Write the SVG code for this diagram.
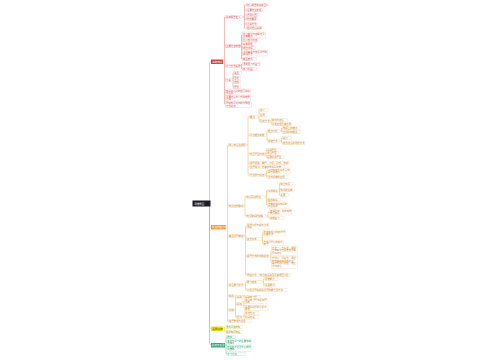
<svg xmlns="http://www.w3.org/2000/svg" width="500" height="360" viewBox="0 0 500 360">
<style>
text{font-family:"Noto Sans CJK SC","Noto Sans",sans-serif;font-size:2.4px}
.r rect{fill:#fff;stroke:#f2b4b4;stroke-width:.3}.r text{fill:#d85a5a}
.o rect{fill:#fff;stroke:#f5cf98;stroke-width:.3}.o text{fill:#cf8a35}
.g rect{fill:#fff;stroke:#9fdcc0;stroke-width:.3}.g text{fill:#2a9f70}
.y rect{fill:#fff;stroke:#eee07a;stroke-width:.3}.y text{fill:#9a8a10}
.m text{fill:#fff;font-size:2.6px}
#connectors path{fill:none;stroke-width:.5}
.cr{stroke:#e57b7b}.co{stroke:#f1b25a}.cg{stroke:#4cbf8c}.cy{stroke:#e6d43a}
</style>
<rect width="500" height="360" fill="#fff"/>
<g id="connectors">
<path class="cr" d="M209.5,201V63.5Q209.5,61.8 211.2,61.8M223,61.8H224.5M224.5,17V104M224.5,17H226M224.5,46H226M224.5,66H226M224.5,80H226M224.5,92H226M224.5,98H226M224.5,104H226"/>
<path class="cr" d="M242,17H244.5M244.5,5V28M244.5,5H247M244.5,10H247M244.5,15H247M244.5,19H247M244.5,24H247M244.5,28H247"/>
<path class="cr" d="M240,46H241.5M241.5,35V59M241.5,35H243M241.5,40H243M241.5,44H243M241.5,48H243M241.5,53H243M241.5,59H243"/>
<path class="cr" d="M240,66H241.5M241.5,64V69M241.5,64H243M241.5,69H243"/>
<path class="cr" d="M232,80H233M233,73V87M233,73H234M233,78H234M233,82H234M233,87H234"/>
<path class="co" d="M209.5,206V225.5Q209.5,227.2 211.2,227.2M226,227.2H227.5M227.5,145V321M227.5,145H229M227.5,206H229M227.5,236H229M227.5,285H229M227.5,296H229M227.5,310H229M227.5,321H229"/>
<path class="co" d="M246,145H248M248,117V175M248,117H250M248,135H250M248,154H250M248,163H250M248,167H250M248,175H250"/>
<path class="co" d="M258,117H259M259,110V121M259,110H260M259,115H260M259,121H260M270,121H271M271,120V124M271,120H272M271,124H272"/>
<path class="co" d="M266,135H267M267,131V141M267,131H268M267,141H268M280,131H281.5M281.5,128V132M281.5,128H283M281.5,132H283M279,141H281.5M281.5,138V143M281.5,138H283M281.5,143H283"/>
<path class="co" d="M265,154H266M266,150V157M266,150H267M266,153.5H267M266,157H267M265,175H266.5M266.5,171V177M266.5,171H268M266.5,177H268"/>
<path class="co" d="M244,206H245M245,197V216M245,197H246.5M245,216H246.5M264.5,197H266.5M266.5,191V205M266.5,191H268M266.5,200H268M266.5,205H268M279,191H279.5M279.5,184V195M279.5,184H280.5M279.5,190H280.5M279.5,195H280.5M265.5,216H268M268,212V218M268,212H270M268,218H270"/>
<path class="co" d="M244,236H245.5M245.5,226V275M245.5,226H247M245.5,239H247M245.5,256H247M245.5,275H247M262,239H262.5M262.5,233V243M262.5,233H263.5M262.5,243H263.5M270,256H271M271,250.5V262.5M271,250.5H272M271,262.5H272M259,275H260"/>
<path class="co" d="M244,285H245.5M245.5,282V290M245.5,282H247M245.5,290H247M262,282H263.5M263.5,279V285M263.5,279H265M263.5,285H265M235,296H246"/>
<path class="co" d="M234,310H235.5M235.5,297V317M235.5,297H237M235.5,304H237M235.5,317H237M243,297H245M243,304H244M244,301V308M244,301H245M244,308H245M243,317H244M244,313V317M244,313H245M244,317H245"/>
<path class="cy" d="M209.5,206V326.8Q209.5,328.7 211.2,328.7M223,328.7H224.5M224.5,327V332M224.5,327H226M224.5,332H226"/>
<path class="cg" d="M209.5,206V343.3Q209.5,345.2 211.2,345.2M225,345.2H226M226,337V354M226,337H227M226,342H227M226,348H227M226,354H227"/>
</g>
<g id="root"><rect x="192.5" y="200.5" width="18" height="6" fill="#1d1d2b"/><text x="194.5" y="204.5" fill="#fff" font-size="3.2px">思维导图</text></g>
<g id="b1" class="m"><rect x="211" y="59.5" width="12" height="4.5" fill="#d0403a"/><text x="212.2" y="62.7">基础知识</text></g>
<g id="b2" class="m"><rect x="211" y="225" width="15" height="4.5" fill="#f0a030"/><text x="211.8" y="228.1">重点内容分析</text></g>
<g id="b3" class="m"><rect x="211" y="326.5" width="12" height="4.5" fill="#f3e01c"/><text x="212.2" y="329.6" style="fill:#6b5e00">拓展延伸</text></g>
<g id="b4" class="m"><rect x="211" y="343" width="14" height="4.5" fill="#2aa87a"/><text x="211.6" y="346.1">总结与反思</text></g>
<g id="r1" class="r"><rect x="225.5" y="15.3" width="16.5" height="3.4"/><text x="226" y="17.9">基本概念定义</text></g>
<g id="r1a" class="r"><rect x="246.5" y="3.3" width="20" height="3.4"/><text x="247" y="5.9">核心概念的基本含义</text></g>
<g id="r1b" class="r"><rect x="246.5" y="8.3" width="16" height="3.4"/><text x="247" y="10.9">主要特征表现</text></g>
<g id="r1c" class="r"><rect x="246.5" y="13.3" width="11" height="3.4"/><text x="247" y="15.9">适用范围</text></g>
<g id="r1d" class="r"><rect x="246.5" y="17.3" width="11" height="3.4"/><text x="247" y="19.9">构成要素</text></g>
<g id="r1e" class="r"><rect x="246.5" y="22.3" width="11" height="3.4"/><text x="247" y="24.9">分类方法</text></g>
<g id="r1f" class="r"><rect x="246.5" y="26.3" width="15" height="3.4"/><text x="247" y="28.9">相关理论基础</text></g>
<g id="r2" class="r"><rect x="225.5" y="44.3" width="15" height="3.4"/><text x="226" y="46.9">主要内容梳理</text></g>
<g id="r2a" class="r"><rect x="242.5" y="32" width="23" height="6"/><text x="243" y="34.5">第一部分内容概述及</text><text x="243" y="37.2">主要要点</text></g>
<g id="r2b" class="r"><rect x="242.5" y="38.3" width="16" height="3.4"/><text x="243" y="40.9">第二部分内容</text></g>
<g id="r2c" class="r"><rect x="242.5" y="42.3" width="13" height="3.4"/><text x="243" y="44.9">基本原理</text></g>
<g id="r2d" class="r"><rect x="242.5" y="46.3" width="13" height="3.4"/><text x="243" y="48.9">操作流程</text></g>
<g id="r2e" class="r"><rect x="242.5" y="50" width="25" height="6"/><text x="243" y="52.5">注意事项与常见问题的</text><text x="243" y="55.2">解决办法</text></g>
<g id="r2f" class="r"><rect x="242.5" y="57.3" width="14" height="3.4"/><text x="243" y="59.9">典型案例</text></g>
<g id="r3" class="r"><rect x="225.5" y="64.3" width="15" height="3.4"/><text x="226" y="66.9">学习方法指导</text></g>
<g id="r3a" class="r"><rect x="242.5" y="62.3" width="18" height="3.4"/><text x="243" y="64.9">课前预习与复习</text></g>
<g id="r3b" class="r"><rect x="242.5" y="67.3" width="14" height="3.4"/><text x="243" y="69.9">练习巩固</text></g>
<g id="r4" class="r"><rect x="225.5" y="78.3" width="7" height="3.4"/><text x="226" y="80.9">分类</text></g>
<g id="r4a" class="r"><rect x="233.7" y="71.3" width="7.5" height="3.4"/><text x="234.2" y="73.9">类型</text></g>
<g id="r4b" class="r"><rect x="233.7" y="76.3" width="6.5" height="3.4"/><text x="234.2" y="78.9">形式</text></g>
<g id="r4c" class="r"><rect x="233.7" y="80.3" width="6.5" height="3.4"/><text x="234.2" y="82.9">结构</text></g>
<g id="r4d" class="r"><rect x="233.7" y="85.3" width="6.5" height="3.4"/><text x="234.2" y="87.9">层次</text></g>
<g id="r5" class="r"><rect x="225.5" y="89" width="25" height="6"/><text x="226" y="91.5">知识点之间的相互联系</text><text x="226" y="94.2">与区别</text></g>
<g id="r6" class="r"><rect x="225.5" y="95.2" width="25" height="6"/><text x="226" y="97.7">重要结论与公式的推导</text><text x="226" y="100.4">过程</text></g>
<g id="r7" class="r"><rect x="225.5" y="101.3" width="26" height="6"/><text x="226" y="103.8">易错知识点归纳与整理</text><text x="226" y="106.5">方法总结</text></g>
<g id="o1" class="o"><rect x="228.5" y="143.3" width="17.5" height="3.4"/><text x="229" y="145.9">核心知识点解析</text></g>
<g id="o1a" class="o"><rect x="249.5" y="115.3" width="8.5" height="3.4"/><text x="250" y="117.9">要点</text></g>
<g id="o1a1" class="o"><rect x="259.5" y="108.3" width="8.5" height="3.4"/><text x="260" y="110.9">定义</text></g>
<g id="o1a2" class="o"><rect x="259.5" y="113.3" width="7.5" height="3.4"/><text x="260" y="115.9">性质</text></g>
<g id="o1a3" class="o"><rect x="259.5" y="119.3" width="10.5" height="3.4"/><text x="260" y="121.9">判定方法</text></g>
<g id="o1a3a" class="o"><rect x="271.5" y="118.3" width="16" height="3.4"/><text x="272" y="120.9">条件与结论</text></g>
<g id="o1a3b" class="o"><rect x="271.5" y="122.3" width="20" height="3.4"/><text x="272" y="124.9">判定定理及其应用</text></g>
<g id="o1b" class="o"><rect x="249.5" y="133.3" width="16.5" height="3.4"/><text x="250" y="135.9">重点难点突破</text></g>
<g id="o1b1" class="o"><rect x="267.5" y="129.3" width="12.5" height="3.4"/><text x="268" y="131.9">难点分析</text></g>
<g id="o1b1a" class="o"><rect x="282.5" y="126.3" width="17.5" height="3.4"/><text x="283" y="128.9">理解上的难点</text></g>
<g id="o1b1b" class="o"><rect x="282.5" y="130.3" width="18.5" height="3.4"/><text x="283" y="132.9">应用中的难点</text></g>
<g id="o1b2" class="o"><rect x="267.5" y="139.3" width="11.5" height="3.4"/><text x="268" y="141.9">突破方法</text></g>
<g id="o1b2a" class="o"><rect x="282.5" y="136.3" width="8.5" height="3.4"/><text x="283" y="138.9">类比</text></g>
<g id="o1b2b" class="o"><rect x="282.5" y="141.3" width="22.5" height="3.4"/><text x="283" y="143.9">数形结合的思想方法</text></g>
<g id="o1c" class="o"><rect x="249.5" y="152.3" width="15.5" height="3.4"/><text x="250" y="154.9">常见题型归纳</text></g>
<g id="o1c1" class="o"><rect x="266.5" y="148.4" width="14.5" height="3.2"/><text x="267" y="150.9">基础题型</text></g>
<g id="o1c2" class="o"><rect x="266.5" y="151.9" width="12.5" height="3.2"/><text x="267" y="154.4">综合题型</text></g>
<g id="o1c3" class="o"><rect x="266.5" y="155.4" width="17.5" height="3.2"/><text x="267" y="157.9">拓展提高题型</text></g>
<g id="o1d" class="o"><rect x="249.5" y="161.3" width="39.5" height="3.4"/><text x="250" y="163.9">解题思路：审题、分析、列式、求解</text></g>
<g id="o1e" class="o"><rect x="249.5" y="165.3" width="35.5" height="3.4"/><text x="250" y="167.9">答题规范：步骤完整书写清楚</text></g>
<g id="o1f" class="o"><rect x="249.5" y="173.3" width="15.5" height="3.4"/><text x="250" y="175.9">方法技巧总结</text></g>
<g id="o1f1" class="o"><rect x="267.5" y="168" width="22.5" height="6"/><text x="268" y="170.5">从已知条件出发寻找</text><text x="268" y="173.2">解题突破口</text></g>
<g id="o1f2" class="o"><rect x="267.5" y="175.3" width="20.5" height="3.4"/><text x="268" y="177.9">逆向思维的应用</text></g>
<g id="o2" class="o"><rect x="228.5" y="204.3" width="15.5" height="3.4"/><text x="229" y="206.9">知识结构体系</text></g>
<g id="o2a" class="o"><rect x="246" y="195.3" width="18.5" height="3.4"/><text x="246.5" y="197.9">知识网络构建</text></g>
<g id="o2a1" class="o"><rect x="267.5" y="189.3" width="11.5" height="3.4"/><text x="268" y="191.9">纵向联系</text></g>
<g id="o2a1a" class="o"><rect x="280" y="182.3" width="12.5" height="3.4"/><text x="280.5" y="184.9">前后知识</text></g>
<g id="o2a1b" class="o"><rect x="280" y="188.3" width="14.5" height="3.4"/><text x="280.5" y="190.9">知识的延伸</text></g>
<g id="o2a1c" class="o"><rect x="280" y="193.3" width="8.5" height="3.4"/><text x="280.5" y="195.9">拓展</text></g>
<g id="o2a2" class="o"><rect x="267.5" y="198.3" width="12.5" height="3.4"/><text x="268" y="200.9">横向联系</text></g>
<g id="o2a3" class="o"><rect x="267.5" y="202" width="20.5" height="6"/><text x="268" y="204.5">与其他学科知识的</text><text x="268" y="207.2">综合运用</text></g>
<g id="o2b" class="o"><rect x="246" y="214.3" width="19.5" height="3.4"/><text x="246.5" y="216.9">知识体系的完善</text></g>
<g id="o2b1" class="o"><rect x="269.5" y="209" width="22" height="6"/><text x="270" y="211.5">查漏补缺，形成完整</text><text x="270" y="214.2">知识体系</text></g>
<g id="o2b2" class="o"><rect x="269.5" y="216.3" width="14.5" height="3.4"/><text x="270" y="218.9">定期复习</text></g>
<g id="o3" class="o"><rect x="228.5" y="234.3" width="15.5" height="3.4"/><text x="229" y="236.9">典型例题精讲</text></g>
<g id="o3a" class="o"><rect x="246.5" y="223" width="22.5" height="6"/><text x="247" y="225.5">例题分析与解答过程</text><text x="247" y="228.2">详解</text></g>
<g id="o3b" class="o"><rect x="246.5" y="237.3" width="15.5" height="3.4"/><text x="247" y="239.9">变式训练</text></g>
<g id="o3b1" class="o"><rect x="263" y="230" width="22.5" height="6"/><text x="263.5" y="232.5">改变条件后的变式题</text><text x="263.5" y="235.2">及其解法</text></g>
<g id="o3b2" class="o"><rect x="263" y="240" width="20.5" height="6"/><text x="263.5" y="242.5">改变问题后的变式</text><text x="263.5" y="245.2">练习</text></g>
<g id="o3c" class="o"><rect x="246.5" y="254.3" width="23.5" height="3.4"/><text x="247" y="256.9">解题方法的归纳总结</text></g>
<g id="o3c1" class="o"><rect x="271.5" y="246" width="26" height="9.2"/><text x="272" y="248.5">方法一：直接法，根据</text><text x="272" y="251.2">已知条件直接推理计算</text><text x="272" y="253.9">得出结论</text></g>
<g id="o3c2" class="o"><rect x="271.5" y="256.3" width="26" height="12.2"/><text x="272" y="258.8">方法二：间接法，通过</text><text x="272" y="261.5">构造辅助条件或反证</text><text x="272" y="264.2">等方式进行推理，最后</text><text x="272" y="266.9">得出结论</text></g>
<g id="o3d" class="o"><rect x="246.5" y="273.3" width="12.5" height="3.4"/><text x="247" y="275.9">易错分析</text></g>
<g id="o3d1" class="o"><rect x="259.5" y="273.3" width="31" height="3.4"/><text x="260" y="275.9">常见错误类型及其原因分析</text></g>
<g id="o4" class="o"><rect x="228.5" y="283.3" width="15.5" height="3.4"/><text x="229" y="285.9">综合能力提升</text></g>
<g id="o4a" class="o"><rect x="246.5" y="280.3" width="15.5" height="3.4"/><text x="247" y="282.9">能力培养</text></g>
<g id="o4a1" class="o"><rect x="264.5" y="277.3" width="13.5" height="3.4"/><text x="265" y="279.9">思维能力</text></g>
<g id="o4a2" class="o"><rect x="264.5" y="283.3" width="10.5" height="3.4"/><text x="265" y="285.9">运算能力</text></g>
<g id="o4b" class="o"><rect x="246.5" y="288.3" width="40.5" height="3.4"/><text x="247" y="290.9">分析问题和解决问题的能力及方法</text></g>
<g id="o5" class="o"><rect x="228.5" y="294.3" width="6.5" height="3.4"/><text x="229" y="296.9">实践</text></g>
<g id="o6" class="o"><rect x="228.5" y="308.3" width="5.5" height="3.4"/><text x="229" y="310.9">训练</text></g>
<g id="o6a" class="o"><rect x="236.5" y="295.3" width="6.5" height="3.4"/><text x="237" y="297.9">基础</text></g>
<g id="o6a1" class="o"><rect x="244.5" y="295.3" width="15.5" height="3.4"/><text x="245" y="297.9">基础练习题</text></g>
<g id="o6b" class="o"><rect x="236.5" y="302.3" width="6.5" height="3.4"/><text x="237" y="304.9">提高</text></g>
<g id="o6b1" class="o"><rect x="244.5" y="298.2" width="22.5" height="5.6"/><text x="245" y="300.5">综合练习题与提高题</text><text x="245" y="303">训练</text></g>
<g id="o6b2" class="o"><rect x="244.5" y="305.2" width="23.5" height="5.6"/><text x="245" y="307.5">拓展探究题的分析与</text><text x="245" y="310">解答</text></g>
<g id="o6c" class="o"><rect x="236.5" y="315.3" width="6.5" height="3.4"/><text x="237" y="317.9">检测</text></g>
<g id="o6c1" class="o"><rect x="244.5" y="311.4" width="14.5" height="3.2"/><text x="245" y="313.9">单元检测</text></g>
<g id="o6c2" class="o"><rect x="244.5" y="315.4" width="14.5" height="3.2"/><text x="245" y="317.9">阶段测试</text></g>
<g id="o7" class="o"><rect x="228.5" y="319.3" width="23" height="3.4"/><text x="229" y="321.9">错题整理与反思</text></g>
<g id="y1" class="y"><rect x="225.5" y="325.3" width="17" height="3.4"/><text x="226" y="327.9">课外阅读材料</text></g>
<g id="y2" class="y"><rect x="225.5" y="330.3" width="17" height="3.4"/><text x="226" y="332.9">相关知识链接</text></g>
<g id="g1" class="g"><rect x="226.5" y="335.3" width="9" height="3.4"/><text x="227" y="337.9">收获</text></g>
<g id="g2" class="g"><rect x="226.5" y="339" width="24.5" height="6"/><text x="227" y="341.5">本单元学习的主要收获</text><text x="227" y="344.2">与体会</text></g>
<g id="g3" class="g"><rect x="226.5" y="345.2" width="24.5" height="6"/><text x="227" y="347.7">存在的不足及今后的改</text><text x="227" y="350.4">进措施</text></g>
<g id="g4" class="g"><rect x="226.5" y="352.3" width="19" height="3.4"/><text x="227" y="354.9">学习计划</text></g>
</svg>
